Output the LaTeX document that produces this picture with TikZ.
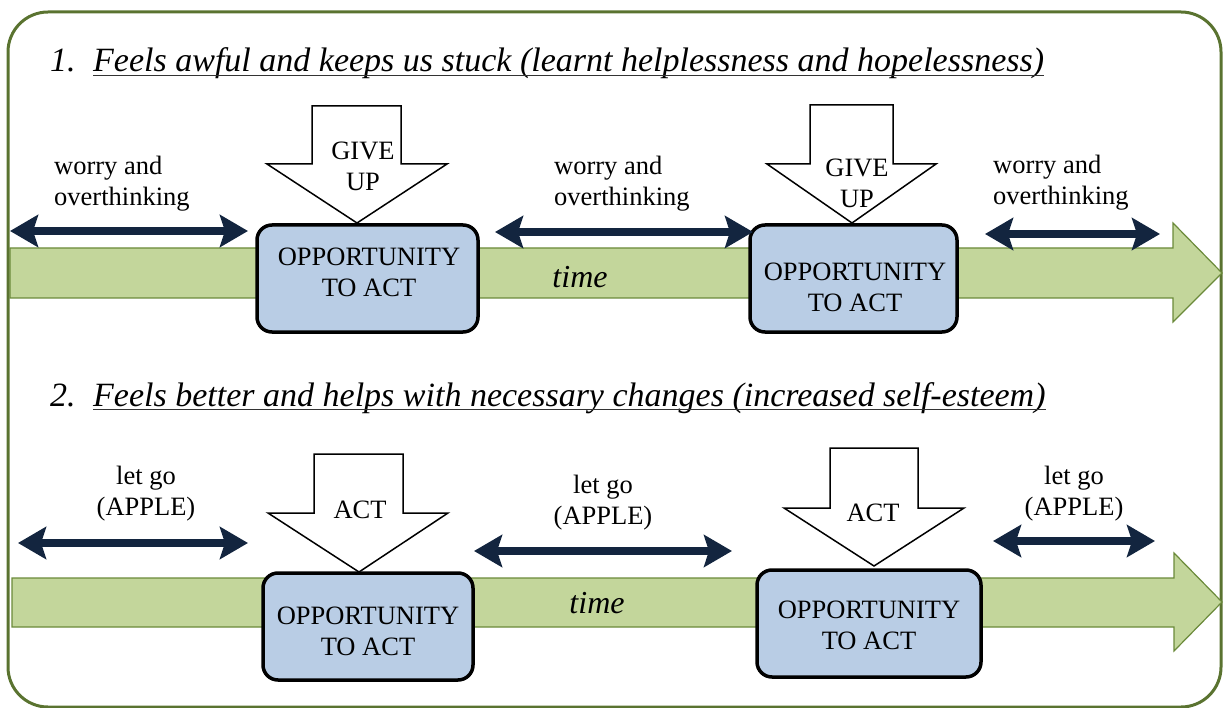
\documentclass[tikz,border=0pt]{standalone}
\usepackage{fontspec}
\setmainfont{Liberation Serif}
\usetikzlibrary{arrows.meta}
\definecolor{frameline}{HTML}{5A7330}
\definecolor{bandfill}{HTML}{C3D69B}
\definecolor{bandline}{HTML}{6B8A3A}
\definecolor{boxfill}{HTML}{B9CDE5}
\definecolor{navy}{HTML}{13253F}
\begin{document}
\begin{tikzpicture}[x=1pt,y=-1pt,
  band/.style={fill=bandfill, draw=bandline, line width=1.2pt, line join=miter},
  oppbox/.style={draw=black, line width=3.5pt, fill=boxfill, rounded corners=15pt,
    inner sep=0pt},
  downarrow/.style={draw=black, fill=white, line width=1.5pt, line join=miter},
  twoway/.style={draw=navy, line width=8.5pt,
    {Stealth[length=28pt,width=32pt,inset=5pt]}-{Stealth[length=28pt,width=32pt,inset=5pt]}},
  lbl/.style={inner sep=0pt, font=\fontsize{26.5}{31}\selectfont},
  heading/.style={inner sep=0pt, font=\fontsize{34}{40}\selectfont\itshape},
  timelbl/.style={inner sep=0pt, font=\fontsize{32}{36}\selectfont\itshape},
  uline/.style={draw=black!80, line width=1.3pt}
]
\useasboundingbox (0,0) rectangle (1225,708);

% outer frame
\draw[frameline, line width=3pt, rounded corners=40pt] (8,12) rectangle (1221,707);

% ---------- part 1 ----------
\node[heading, anchor=base west] (n1) at (50,72) {1.};
\node[heading, anchor=base west] (h1) at (93,72)
  {Feels awful and keeps us stuck (learnt helplessness and hopelessness)};
\draw[uline] ([yshift=-3.5pt]h1.base west) -- ([yshift=-3.5pt]h1.base east);

% time band
\draw[band] (10,248) -- (1173,248) -- (1173,223) -- (1222,273) -- (1173,322)
  -- (1173,298) -- (10,298) -- cycle;
\node[timelbl] (time1) at (580,277) {time};

% opportunity boxes
\node[oppbox, minimum width=221pt, minimum height=107pt] (box1) at (367.5,278.5) {};
\node[lbl, align=center] (box1txt) at (369,272) {OPPORTUNITY\\TO ACT};
\node[oppbox, minimum width=207pt, minimum height=107pt] (box2) at (853.5,278.5) {};
\node[lbl, align=center] (box2txt) at (855,287) {OPPORTUNITY\\TO ACT};

% give-up arrows
\draw[downarrow] (312,106) -- (401,106) -- (401,164) -- (447,164) -- (357,223)
  -- (267,164) -- (312,164) -- cycle;
\node[lbl, align=center] (give1) at (363,166) {GIVE\\UP};
\draw[downarrow] (810,105) -- (893,105) -- (893,164) -- (936,164) -- (852,223)
  -- (767,164) -- (810,164) -- cycle;
\node[lbl, align=center] (give2) at (857,183) {GIVE\\UP};

% worry labels and spans
\node[lbl, align=left, anchor=west] (w1) at (54,184) {worry and\\overthinking};
\node[lbl, align=left, anchor=west] (w2) at (554,184) {worry and\\overthinking};
\node[lbl, align=left, anchor=west] (w3) at (993,183) {worry and\\overthinking};
\coordinate (a1l) at (10,231);  \coordinate (a1r) at (248,231);
\coordinate (a2l) at (495,232); \coordinate (a2r) at (753,232);
\coordinate (a3l) at (985,234); \coordinate (a3r) at (1160,234);
\draw[twoway] (a1l) -- (a1r);
\draw[twoway] (a2l) -- (a2r);
\draw[twoway] (a3l) -- (a3r);

% ---------- part 2 ----------
\node[heading, anchor=base west] (n2) at (50,406) {2.};
\node[heading, anchor=base west] (h2) at (93,406)
  {Feels better and helps with necessary changes (increased self-esteem)};
\draw[uline] ([yshift=-3.5pt]h2.base west) -- ([yshift=-3.5pt]h2.base east);

\draw[band] (12,578) -- (1174,578) -- (1174,553) -- (1222,602) -- (1174,651)
  -- (1174,627) -- (12,627) -- cycle;
\node[timelbl] (time2) at (597,603) {time};

\node[oppbox, minimum width=210pt, minimum height=107pt] (box3) at (368,626.5) {};
\node[lbl, align=center] (box3txt) at (368,631) {OPPORTUNITY\\TO ACT};
\node[oppbox, minimum width=224pt, minimum height=107pt] (box4) at (869,623.5) {};
\node[lbl, align=center] (box4txt) at (869,625) {OPPORTUNITY\\TO ACT};

% act arrows
\draw[downarrow] (314,454) -- (403,454) -- (403,513) -- (448,513) -- (359,572)
  -- (268,513) -- (314,513) -- cycle;
\node[lbl] (act1) at (360,510) {ACT};
\draw[downarrow] (830,448) -- (918,448) -- (918,508) -- (964,508) -- (874,566)
  -- (784,508) -- (830,508) -- cycle;
\node[lbl] (act2) at (873,513) {ACT};

% let-go labels and spans
\node[lbl, align=center] (g1) at (146,494) {let go\\(APPLE)};
\node[lbl, align=center] (g2) at (603,503) {let go\\(APPLE)};
\node[lbl, align=center] (g3) at (1074,494) {let go\\(APPLE)};
\coordinate (b1l) at (18,543);  \coordinate (b1r) at (248,543);
\coordinate (b2l) at (474,551); \coordinate (b2r) at (732,551);
\coordinate (b3l) at (993,541); \coordinate (b3r) at (1155,541);
\draw[twoway] (b1l) -- (b1r);
\draw[twoway] (b2l) -- (b2r);
\draw[twoway] (b3l) -- (b3r);
\end{tikzpicture}
\end{document}
